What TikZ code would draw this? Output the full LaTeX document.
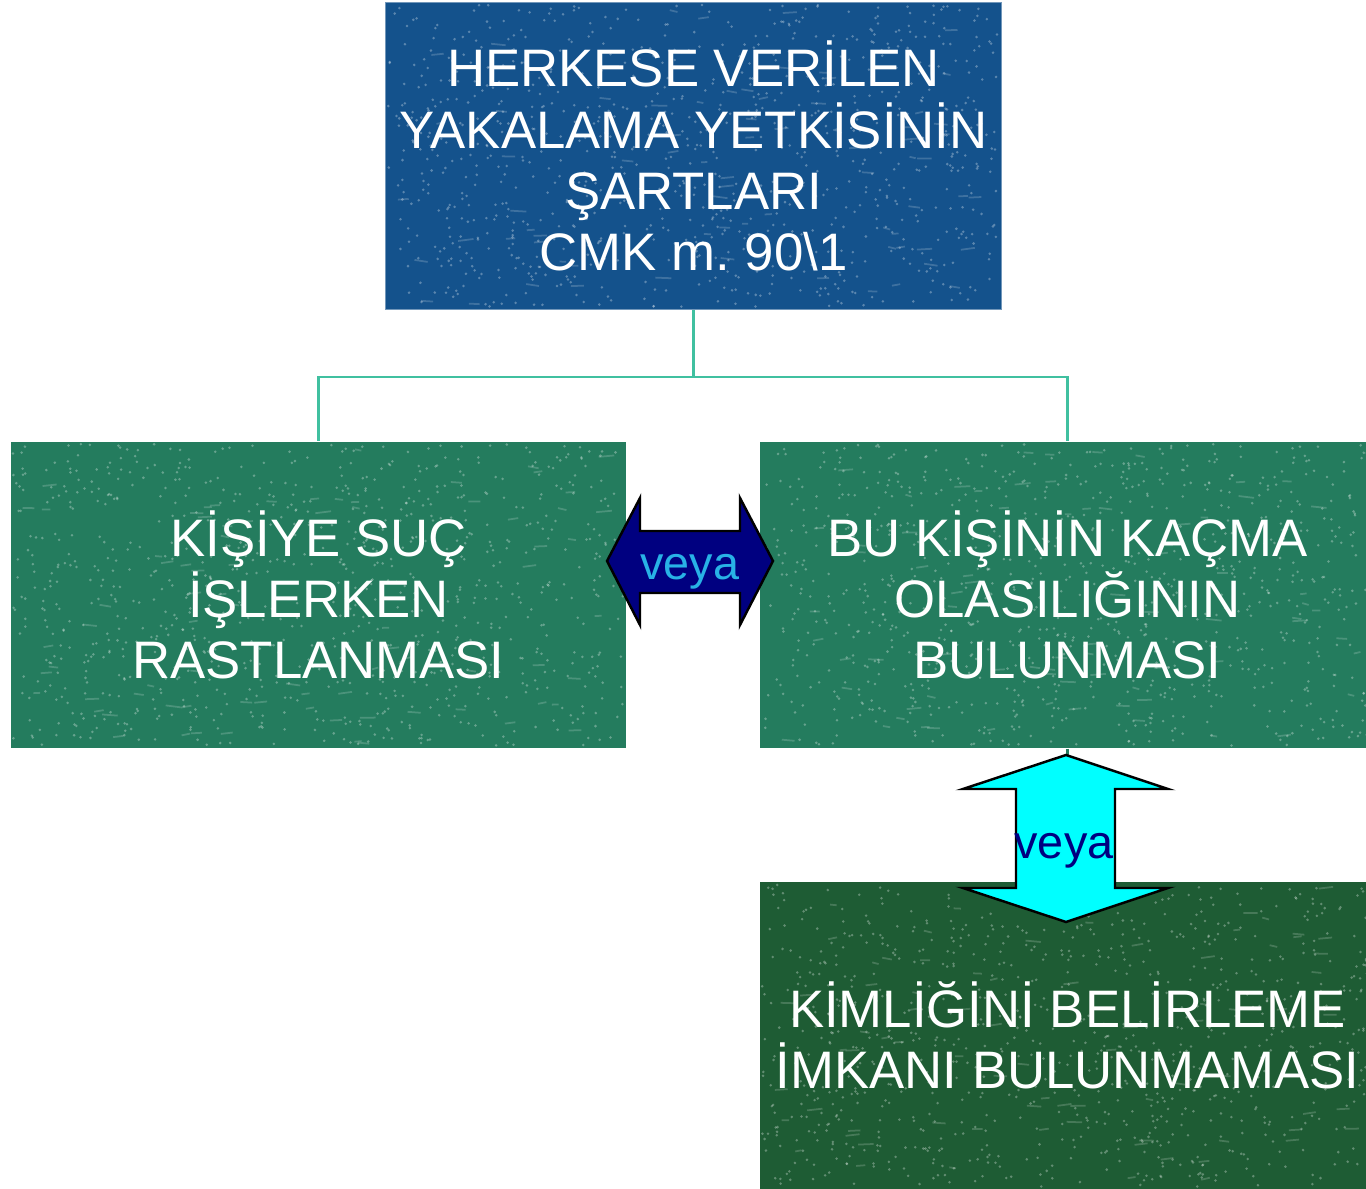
\documentclass[tikz,border=0pt]{standalone}
\usepackage{fontspec}
\setmainfont{Liberation Sans}
\usetikzlibrary{backgrounds,calc}
\definecolor{topblue}{RGB}{20,82,140}
\definecolor{midgreen}{RGB}{36,124,94}
\definecolor{darkgreen}{RGB}{30,92,52}
\definecolor{connteal}{RGB}{64,192,160}
\definecolor{navyfill}{RGB}{0,0,128}
\definecolor{cyanfill}{RGB}{0,255,255}
\definecolor{veyablue}{RGB}{40,178,230}
\tikzset{
  boxtext/.style={text=white, align=center, inner sep=0pt,
    font=\fontsize{15}{17.4}\selectfont},
  conn/.style={draw=connteal, line width=0.6pt},
  arrowshape/.style={draw=black, line width=0.7pt, line join=miter},
  veyatext/.style={font=\fontsize{13.3}{15}\selectfont, inner sep=0pt},
  speck/.style={white, opacity=0.3}
}
\newcommand{\speckbox}[5]{%
  \fill[#5] (#1,#2) rectangle ++(#3,#4);
  \foreach \i in {1,...,900}{%
    \fill[speck] ({#1+2+(#3-4)*rnd},{#2+2+(#4-4)*rnd}) circle[radius=0.4pt];
  }%
  \foreach \i in {1,...,80}{%
    \draw[white,opacity=0.18,line width=0.5pt] ({#1+10+(#3-30)*rnd},{#2+5+(#4-10)*rnd}) -- ++({6+10*rnd},{-2+4*rnd});
  }%
}
\begin{document}
\frenchspacing
\begin{tikzpicture}[x=0.01cm,y=-0.01cm]
\pgfmathsetseed{4242}
\useasboundingbox (0,0) rectangle (1366,1189);
\clip (0,0) rectangle (1366,1189);

% text nodes (boxes drawn on background)
\node[boxtext, minimum width=615*0.01cm, minimum height=306*0.01cm] (top) at (693.5,156)
  {HERKESE VERİLEN\\YAKALAMA YETKİSİNİN\\ŞARTLARI\\CMK m. 90\textbackslash 1};
\node[boxtext, minimum width=615*0.01cm, minimum height=306*0.01cm] (left) at (318.5,595)
  {KİŞİYE SUÇ\\İŞLERKEN\\RASTLANMASI};
\node[boxtext, minimum width=615*0.01cm, minimum height=306*0.01cm] (right) at (1067.5,595)
  {BU KİŞİNİN KAÇMA\\OLASILIĞININ\\BULUNMASI};
\node[boxtext, minimum width=615*0.01cm, minimum height=307*0.01cm] (bottom) at (1067.5,1035.5)
  {KİMLİĞİNİ BELİRLEME\\İMKANI BULUNMAMASI};

\begin{pgfonlayer}{background}
  \draw[conn] (top.south) -- ++(0,67) -| (left.north);
  \draw[conn] (top.south) -- ++(0,67) -| (right.north);
  \speckbox{386}{3}{615}{306}{topblue}
  \draw[topblue!60!white, line width=0.4pt] (top.north west) rectangle (top.south east);
  \speckbox{11}{442}{615}{306}{midgreen}
  \speckbox{760}{442}{615}{306}{midgreen}
  \speckbox{760}{882}{615}{307}{darkgreen}
\end{pgfonlayer}

% connector right -> bottom (mostly hidden by the arrow)
\draw[conn, draw=midgreen] (right.south) -- (bottom.north);

% horizontal double arrow
\filldraw[arrowshape, fill=navyfill]
  (607,561) -- (640,498) -- (640,531) -- (740,531) -- (740,498) -- (773,561)
  -- (740,625) -- (740,593) -- (640,593) -- (640,625) -- cycle;
\node[veyatext, text=veyablue] (veya1) at (690,572) {veya};

% vertical double arrow
\filldraw[arrowshape, fill=cyanfill]
  (1066,755) -- (1168,789) -- (1115,789) -- (1115,888) -- (1168,888) -- (1066,922)
  -- (963,888) -- (1016,888) -- (1016,789) -- (963,789) -- cycle;
\node[veyatext, text=navyfill] (veya2) at (1064,851) {veya};
\end{tikzpicture}
\end{document}
